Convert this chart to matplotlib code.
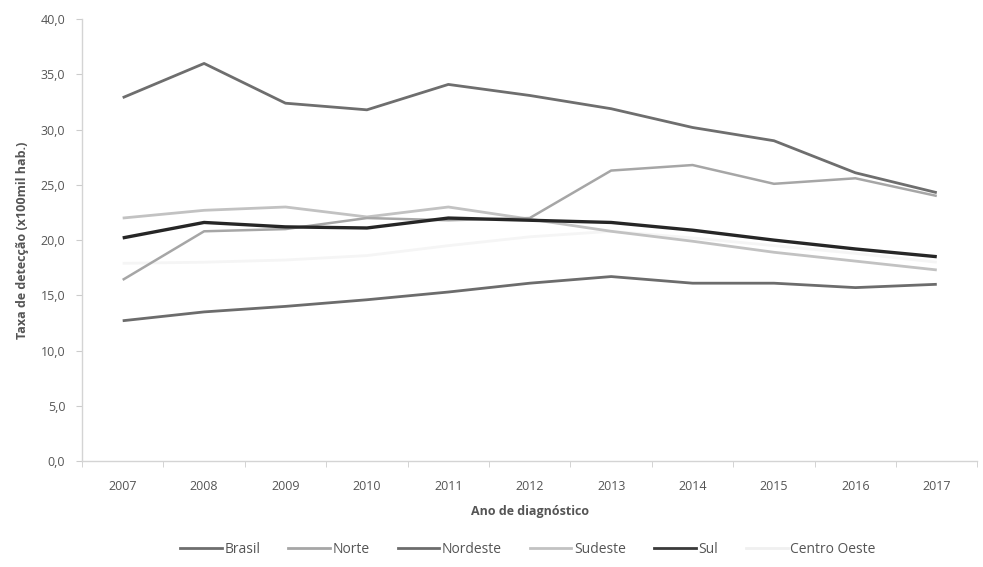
import matplotlib
matplotlib.use("Agg")
import matplotlib.pyplot as plt
from matplotlib.lines import Line2D

years = ["2007", "2008", "2009", "2010", "2011", "2012", "2013", "2014", "2015", "2016", "2017"]
brasil = [20.2, 21.6, 21.2, 21.1, 22.0, 21.8, 21.6, 20.9, 20.0, 19.2, 18.5]
norte = [16.4, 20.8, 21.0, 22.0, 21.8, 22.0, 26.3, 26.8, 25.1, 25.6, 24.0]
nordeste = [12.7, 13.5, 14.0, 14.6, 15.3, 16.1, 16.7, 16.1, 16.1, 15.7, 16.0]
sudeste = [22.0, 22.7, 23.0, 22.1, 23.0, 21.9, 20.8, 19.9, 18.9, 18.1, 17.3]
sul = [32.9, 36.0, 32.4, 31.8, 34.1, 33.1, 31.9, 30.2, 29.0, 26.1, 24.3]
centro_oeste = [17.9, 18.0, 18.2, 18.6, 19.5, 20.3, 20.8, 20.2, 19.5, 18.8, 18.0]
yticks = [0, 5, 10, 15, 20, 25, 30, 35, 40]

plt.rcParams['font.family'] = ['Open Sans', 'DejaVu Sans']

fig = plt.figure(figsize=(9.83, 5.67), dpi=100)
ax = fig.add_axes([0.0834, 0.187, 0.911, 0.779])

x = list(range(len(years)))
series = [
    ("Centro-Oeste", centro_oeste, "#f5f5f5", 2.0),
    ("Nordeste", nordeste, "#6c6c6c", 2.0),
    ("Sudeste", sudeste, "#c2c2c2", 2.0),
    ("Norte", norte, "#a6a6a6", 1.8),
    ("Sul", sul, "#6e6e6e", 2.0),
    ("Brasil", brasil, "#262626", 2.4),
]
for name, vals, col, lw in series:
    ax.plot(x, vals, color=col, lw=lw, solid_capstyle='butt')

ax.set_xlim(-0.47, 10.36)
ax.set_ylim(0, 40)
ax.set_yticks(yticks)
ax.set_yticklabels([f"{v:.1f}".replace('.', ',') for v in yticks])
ax.set_xticks(x)
ax.set_xticklabels(years)
ax.set_xticks([i + 0.5 for i in range(-1, len(years))], minor=True)
ax.tick_params(axis='x', which='major', length=0, pad=14, labelsize=9, labelcolor='#555555')
ax.tick_params(axis='x', which='minor', length=4, color='#cccccc', direction='out')
ax.tick_params(axis='y', which='major', length=4, color='#cccccc', labelsize=9, labelcolor='#555555', pad=8)

for s in ['top', 'right']:
    ax.spines[s].set_visible(False)
for s in ['left', 'bottom']:
    ax.spines[s].set_color('#d4d4d4')
    ax.spines[s].set_linewidth(1.0)

ax.set_ylabel("Taxa de detecção (x100mil hab.)", fontsize=9, fontweight='bold', color='#555555', labelpad=8)
ax.set_xlabel("Ano de diagnóstico", fontsize=9, fontweight='bold', color='#555555', labelpad=8)

legend_items = [
    ("Brasil", "#6e6e6e"),
    ("Norte", "#a6a6a6"),
    ("Nordeste", "#6c6c6c"),
    ("Sudeste", "#c2c2c2"),
    ("Sul", "#3a3a3a"),
    ("Centro Oeste", "#f0f0f0"),
]
handles = [Line2D([0], [0], color=c, lw=2) for _, c in legend_items]
fig.legend(handles, [n for n, _ in legend_items], loc='center', bbox_to_anchor=(0.537, 0.031),
           ncol=6, frameon=False, fontsize=10, handlelength=3.0, handletextpad=0.2,
           columnspacing=2.0, labelcolor='#555555')

fig.savefig("out.png", dpi=100)
